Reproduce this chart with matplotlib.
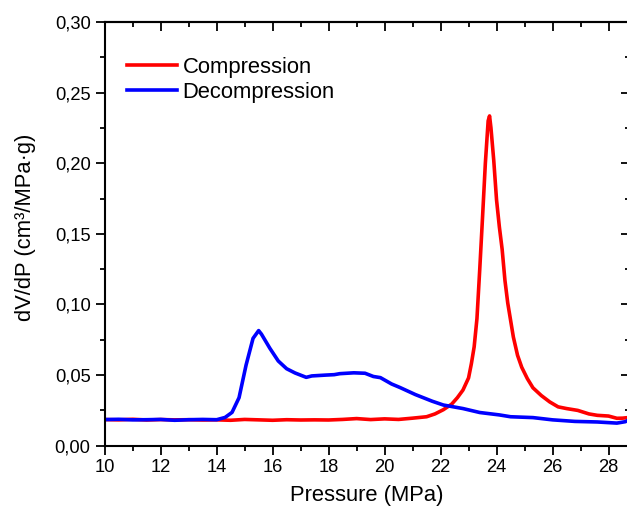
import matplotlib
matplotlib.use("Agg")
import matplotlib.pyplot as plt
from matplotlib.ticker import MultipleLocator

# ---- data ----
comp_x = [10.0, 10.5, 11.0, 11.5, 12.0, 12.5, 13.0, 13.5, 14.0, 14.5, 15.0, 15.5,
          16.0, 16.5, 17.0, 17.5, 18.0, 18.5, 19.0, 19.5, 20.0, 20.5, 21.0, 21.5,
          21.8, 22.1, 22.4, 22.6, 22.8, 23.0, 23.1, 23.2, 23.3, 23.4, 23.5, 23.6,
          23.7, 23.75, 23.8, 23.9, 24.0, 24.1, 24.2, 24.3, 24.4, 24.5, 24.6, 24.75, 24.9,
          25.1, 25.3, 25.6, 25.9, 26.2, 26.5, 26.9, 27.3, 27.6, 28.0, 28.3, 28.5, 28.75]
comp_y = [0.0185, 0.0183, 0.0187, 0.0182, 0.0185, 0.0183, 0.0184, 0.0182, 0.0183, 0.0180,
          0.0186, 0.0183, 0.0180, 0.0184, 0.0182, 0.0183, 0.0182, 0.0186, 0.0192, 0.0185,
          0.0190, 0.0186, 0.0195, 0.0205, 0.0225, 0.0255, 0.0295, 0.0340, 0.0394, 0.0480,
          0.0580, 0.0700, 0.0900, 0.1250, 0.1620, 0.2000, 0.2300, 0.2335, 0.2250, 0.2020,
          0.1740, 0.1550, 0.1390, 0.1170, 0.1010, 0.0890, 0.0770, 0.0640, 0.0555, 0.0475,
          0.0410, 0.0355, 0.0310, 0.0275, 0.0263, 0.0250, 0.0225, 0.0215, 0.0210, 0.0194,
          0.0195, 0.0200]

decomp_x = [10.0, 10.5, 11.0, 11.5, 12.0, 12.5, 13.0, 13.5, 14.0, 14.3, 14.55, 14.8,
            15.05, 15.3, 15.5, 15.6, 15.9, 16.2, 16.5, 16.8, 17.2, 17.4, 17.9, 18.2,
            18.4, 18.9, 19.3, 19.6, 19.85, 20.25, 20.55, 21.1, 21.7, 22.1, 22.8, 23.4,
            24.1, 24.5, 25.3, 26.0, 26.8, 27.6, 28.3, 28.6, 28.75]
decomp_y = [0.0185, 0.0187, 0.0183, 0.0184, 0.0186, 0.0180, 0.0184, 0.0186, 0.0184, 0.0200,
            0.0236, 0.0340, 0.0570, 0.0760, 0.0815, 0.0790, 0.0690, 0.0600, 0.0545, 0.0515,
            0.0484, 0.0494, 0.0500, 0.0503, 0.0510, 0.0516, 0.0513, 0.0490, 0.0482, 0.0437,
            0.0412, 0.0362, 0.0315, 0.0288, 0.0263, 0.0235, 0.0218, 0.0205, 0.0199, 0.0183,
            0.0172, 0.0168, 0.0160, 0.0170, 0.0185]

x_ticks = [10, 12, 14, 16, 18, 20, 22, 24, 26, 28]
x_tick_labels = ["10", "12", "14", "16", "18", "20", "22", "24", "26", "28"]
y_ticks = [0.00, 0.05, 0.10, 0.15, 0.20, 0.25, 0.30]
y_tick_labels = ["0,00", "0,05", "0,10", "0,15", "0,20", "0,25", "0,30"]

plt.rcParams['font.family'] = ['Liberation Sans', 'DejaVu Sans']

fig = plt.figure(figsize=(6.27, 5.11), dpi=100)
ax = fig.add_axes([104.7 / 627, 1 - 445.7 / 511, (629.5 - 104.7) / 627, 423.7 / 511])

ax.plot(comp_x, comp_y, color='#ff0000', lw=2.6, label='Compression')
ax.plot(decomp_x, decomp_y, color='#0000ff', lw=2.6, label='Decompression')

ax.set_xlim(10, 28.75)
ax.set_ylim(0, 0.30)
ax.set_xticks(x_ticks)
ax.set_xticklabels(x_tick_labels)
ax.set_yticks(y_ticks)
ax.set_yticklabels(y_tick_labels)
ax.xaxis.set_minor_locator(MultipleLocator(1))
ax.yaxis.set_minor_locator(MultipleLocator(0.025))

for s in ax.spines.values():
    s.set_linewidth(1.5)
ax.tick_params(which='both', direction='out', width=1.3, labelsize=13.2, top=False, right=False)
ax.tick_params(which='major', length=6.2)
ax.tick_params(which='minor', length=3.3)
ax.tick_params(axis='x', pad=3.5)
ax.tick_params(axis='y', pad=4.0)

secx = ax.secondary_xaxis('top')
secx.set_xticks(x_ticks)
secx.xaxis.set_minor_locator(MultipleLocator(1))
secx.tick_params(which='both', direction='in', width=1.3, labeltop=False)
secx.tick_params(which='major', length=6.2)
secx.tick_params(which='minor', length=3.3)
secx.spines['top'].set_linewidth(1.5)

secy = ax.secondary_yaxis('right')
secy.set_yticks(y_ticks)
secy.yaxis.set_minor_locator(MultipleLocator(0.025))
secy.tick_params(which='both', direction='in', width=1.3, labelright=False)
secy.tick_params(which='major', length=6.2)
secy.tick_params(which='minor', length=3.3)
secy.spines['right'].set_linewidth(1.5)

ax.set_xlabel('Pressure (MPa)', fontsize=15.8)
ax.set_ylabel('dV/dP (cm³/MPa·g)', fontsize=15.8)
ax.xaxis.set_label_coords(0.5, -0.093)
ax.yaxis.set_label_coords(-0.13, 0.515)

leg = ax.legend(loc='upper left', bbox_to_anchor=(22 / 524.8, 1 - 35 / 423.7),
                frameon=False, fontsize=15.8, handlelength=2.3, handletextpad=0.25,
                labelspacing=0.19, borderpad=0, borderaxespad=0)

fig.savefig('out.png', dpi=100)
